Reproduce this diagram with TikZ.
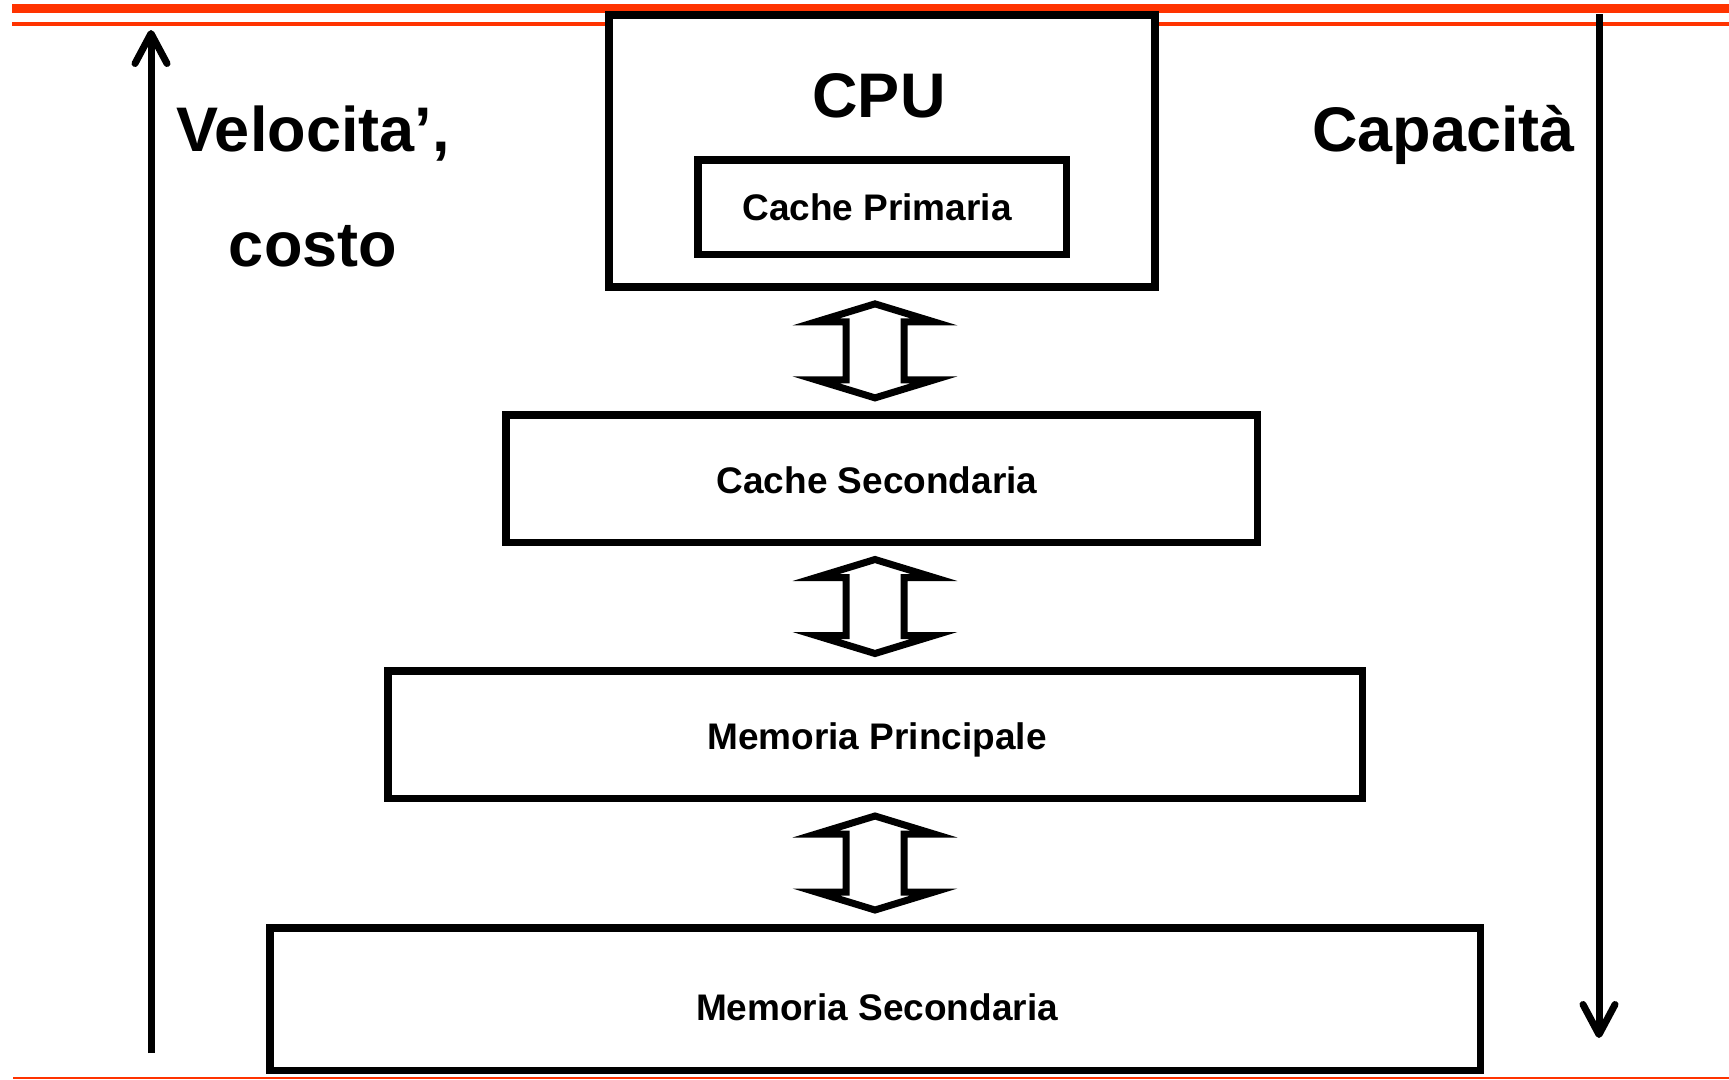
\documentclass[tikz,border=0pt]{standalone}
\usepackage{fontspec}
\setmainfont{Liberation Sans}
\usetikzlibrary{calc,arrows.meta}
\definecolor{rulered}{HTML}{FF3300}
\begin{document}
\begin{tikzpicture}[x=1pt,y=-1pt,
  box/.style={draw, line width=7.5pt, fill=white, inner sep=0pt},
  boxlabel/.style={inner sep=0pt, font=\fontsize{37}{40}\selectfont\bfseries,
    text height=26.5pt, text depth=0pt},
  bigtext/.style={inner sep=0pt, font=\fontsize{63}{115}\selectfont\bfseries},
  scale arrow/.style={line width=7pt, -{Straight Barb[length=30pt,width=32pt,round]}},
  bus/.pic={
    \draw[line width=7pt, miter limit=10, fill=white]
      (0,-47) -- (59,-29) -- (29,-29) -- (29,29) -- (59,29) -- (0,47)
      -- (-59,29) -- (-29,29) -- (-29,-29) -- (-59,-29) -- cycle;
  }]
\useasboundingbox (0,0) rectangle (1729,1079);

% header and footer rules
\fill[rulered] (12,4) rectangle (1729,13);
\fill[rulered] (12,22) rectangle (1729,25.5);
\fill[rulered] (13,1076.5) rectangle (1729,1079);

% memory hierarchy
\node[box, minimum width=546pt, minimum height=272pt] (cpu) at (882,151) {};
\node[bigtext] (cputxt) at (879,96) {CPU};
\node[box, minimum width=368.5pt, minimum height=94.5pt] (cp) at (882,207) {};
\node[box, minimum width=751.5pt, minimum height=127.5pt] (cs) at (881.5,478.5) {};
\node[box, minimum width=974.5pt, minimum height=127.5pt] (mp) at (875,734.5) {};
\node[box, minimum width=1210.5pt, minimum height=142.5pt] (ms) at (875,999) {};

\node[boxlabel] (cptxt) at (877,207) {Cache Primaria};
\node[boxlabel] (cstxt) at (877,480) {Cache Secondaria};
\node[boxlabel] (mptxt) at (877,736.5) {Memoria Principale};
\node[boxlabel] (mstxt) at (877,1007) {Memoria Secondaria};

% transfers between levels
\coordinate (g1) at ($(cpu.south)!.5!(cs.north)$);
\coordinate (g2) at ($(cs.south)!.5!(mp.north)$);
\coordinate (g3) at ($(mp.south)!.5!(ms.north)$);
\pic at (g1 -| ms.center) {bus};
\pic at (g2 -| ms.center) {bus};
\pic at (g3 -| ms.center) {bus};

% side scales
\coordinate (lb) at (151,1053);
\coordinate (lt) at (151,30);
\coordinate (rt) at (1599,14);
\coordinate (rb) at (1599,1038);
\draw[scale arrow] (lb) -- (lt);
\draw[scale arrow] (rt) -- (rb);

\node[bigtext, align=center] (speed) at (313,186) {Velocita’,\\costo};
\node[bigtext, anchor=base] (capacity) at (1443.5,151) {Capacità};
\end{tikzpicture}
\end{document}
